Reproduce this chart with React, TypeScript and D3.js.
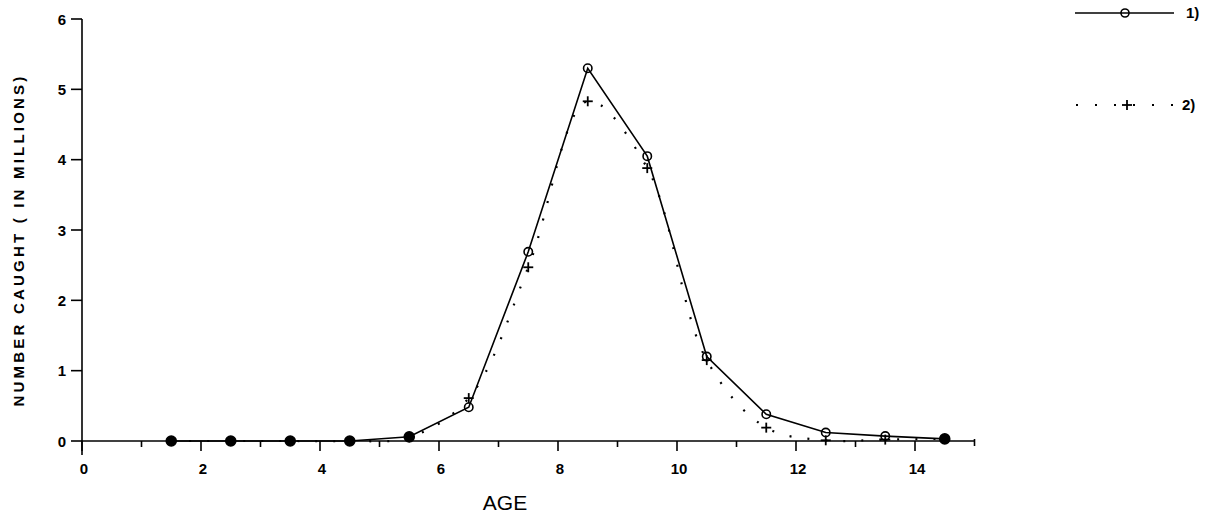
import React from "react";
import * as d3 from "d3";

const ages = [1.5, 2.5, 3.5, 4.5, 5.5, 6.5, 7.5, 8.5, 9.5, 10.5, 11.5, 12.5, 13.5, 14.5];
const series1 = [0, 0, 0, 0, 0.06, 0.48, 2.69, 5.3, 4.05, 1.2, 0.38, 0.12, 0.07, 0.03];
const series2 = [0, 0, 0, 0, 0.05, 0.61, 2.47, 4.83, 3.88, 1.15, 0.19, 0.01, 0.02, 0.03];
const xTicks = [0, 2, 4, 6, 8, 10, 12, 14];
const xMinorTicks = [1, 3, 5, 7, 9, 11, 13];
const yTicks = [0, 1, 2, 3, 4, 5, 6];
const legendLabels = ["1)", "2)"];
const xTitle = "AGE";
const yTitle = "NUMBER CAUGHT ( IN MILLIONS)";

const W = 1215;
const H = 517;
const x = d3.scaleLinear().domain([0, 15]).range([82, 974.5]);
const y = d3.scaleLinear().domain([0, 6]).range([441, 19]);

const tickFont = "'Liberation Sans', Arial, sans-serif";

function Plus({ cx, cy, s = 5 }: { cx: number; cy: number; s?: number }) {
  return (
    <g stroke="#000" strokeWidth={1.8}>
      <line x1={cx - s} x2={cx + s} y1={cy} y2={cy} />
      <line x1={cx} x2={cx} y1={cy - s} y2={cy + s} />
    </g>
  );
}

export default function App() {
  const solid = d3
    .line<number>()
    .x((_, i) => x(ages[i]))
    .y((d) => y(d))(series1) as string;
  const dotted = d3
    .line<number>()
    .x((_, i) => x(ages[i]))
    .y((d) => y(d))
    .curve(d3.curveCatmullRom.alpha(0.5))(series2) as string;

  return (
    <svg
      width={W}
      height={H}
      style={{ position: "absolute", left: 0, top: 0, background: "#fff" }}
    >
      {/* axes */}
      <g stroke="#000" strokeWidth={1.6} fill="none">
        <line x1={x(0)} x2={x(0)} y1={y(6)} y2={y(0) + 14} />
        <line x1={x(0)} x2={x(15)} y1={y(0)} y2={y(0)} />
        <line x1={x(15)} x2={x(15)} y1={y(0) - 2} y2={y(0) + 5} />
        {yTicks.map((t) => (
          <line key={"yt" + t} x1={x(0) - 11} x2={x(0)} y1={y(t)} y2={y(t)} />
        ))}
        {xTicks.map((t) => (
          <line key={"xt" + t} x1={x(t)} x2={x(t)} y1={y(0)} y2={y(0) + 10} />
        ))}
        {xMinorTicks.map((t) => (
          <line key={"xm" + t} x1={x(t)} x2={x(t)} y1={y(0)} y2={y(0) + 6} />
        ))}
      </g>
      {/* tick labels */}
      <g fontFamily={tickFont} fontWeight="bold" fontSize={15} fill="#000">
        {yTicks.map((t) => (
          <text key={"yl" + t} x={x(0) - 16} y={y(t) + 5.5} textAnchor="end">
            {t}
          </text>
        ))}
        {xTicks.map((t) => (
          <text key={"xl" + t} x={x(t) + 2} y={y(0) + 33} textAnchor="middle">
            {t}
          </text>
        ))}
      </g>
      {/* titles */}
      <text
        x={505}
        y={510}
        textAnchor="middle"
        fontFamily={tickFont}
        fontSize={21}
        fill="#000"
      >
        {xTitle}
      </text>
      <text
        transform={`translate(24, 240) rotate(-90)`}
        textAnchor="middle"
        fontFamily={tickFont}
        fontWeight="bold"
        fontSize={15}
        letterSpacing={3.2}
        fill="#000"
      >
        {yTitle}
      </text>
      {/* series 2: dotted with plus */}
      <path
        d={dotted}
        fill="none"
        stroke="#000"
        strokeWidth={2.2}
        strokeDasharray="2 16"
      />
      {/* series 1: solid with circles */}
      <path d={solid} fill="none" stroke="#000" strokeWidth={1.6} />
      {series2.map((v, i) => (
        <Plus key={"p" + i} cx={x(ages[i])} cy={y(v)} />
      ))}
      {series1.map((v, i) => {
        const overlap = Math.abs(y(v) - y(series2[i])) < 1.5;
        return (
          <circle
            key={"c" + i}
            cx={x(ages[i])}
            cy={y(v)}
            r={overlap ? 5 : 4.2}
            fill={overlap ? "#000" : "#fff"}
            fillOpacity={overlap ? 1 : 0}
            stroke="#000"
            strokeWidth={1.6}
          />
        );
      })}
      {/* legend */}
      <g>
        <line x1={1075} x2={1174} y1={13} y2={13} stroke="#000" strokeWidth={1.6} />
        <circle cx={1125} cy={13} r={4} fill="none" stroke="#000" strokeWidth={1.6} />
        <text x={1186} y={18} fontFamily={tickFont} fontWeight="bold" fontSize={15}>
          {legendLabels[0]}
        </text>
        <line
          x1={1076}
          x2={1178}
          y1={105}
          y2={105}
          stroke="#000"
          strokeWidth={2.2}
          strokeDasharray="2 17"
        />
        <Plus cx={1127} cy={105} />
        <text x={1182} y={110} fontFamily={tickFont} fontWeight="bold" fontSize={15}>
          {legendLabels[1]}
        </text>
      </g>
    </svg>
  );
}
